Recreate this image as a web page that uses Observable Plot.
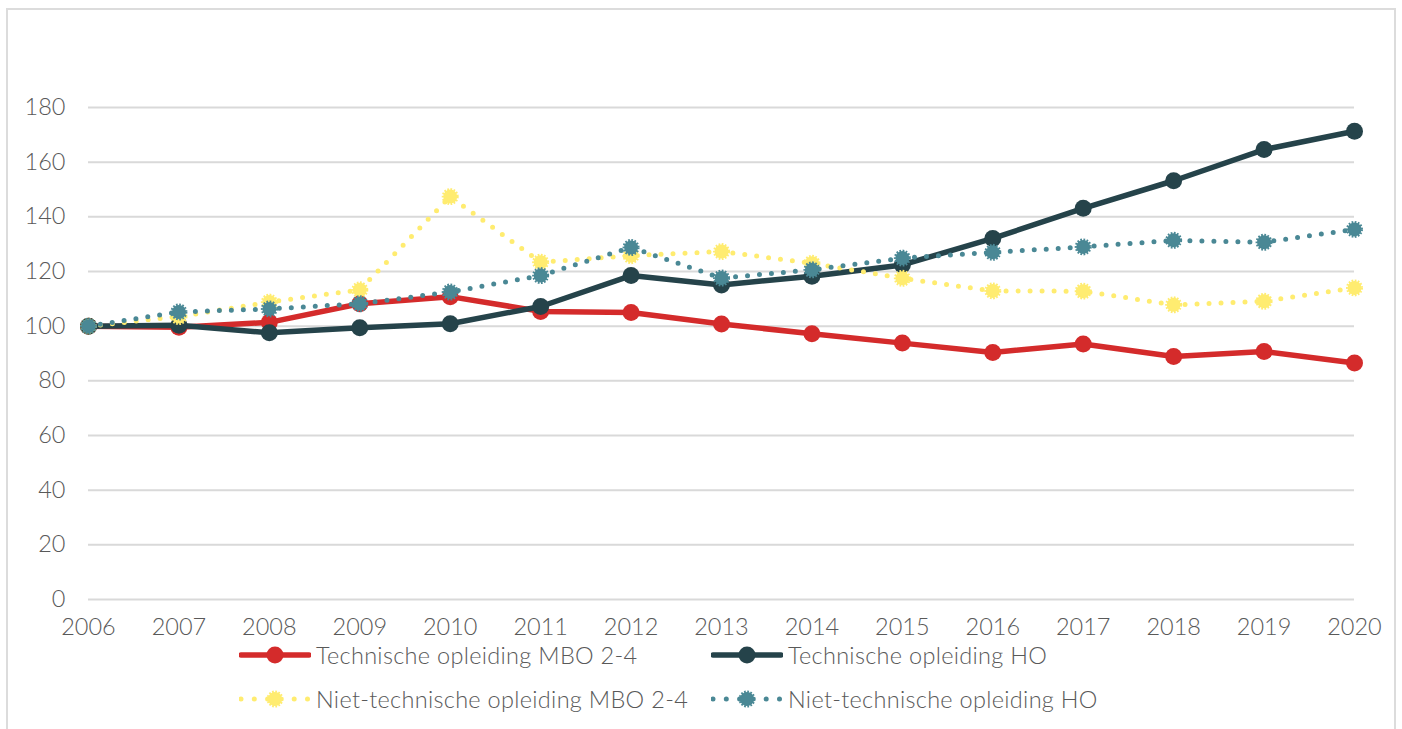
<!DOCTYPE html>
<html>
<head>
<meta charset="utf-8">
<script src="https://cdn.jsdelivr.net/npm/d3@7"></script>
<script src="https://cdn.jsdelivr.net/npm/@observablehq/plot@0.6"></script>
<style>
  html, body { margin: 0; padding: 0; background: #fff; }
  #wrap { position: relative; width: 1402px; height: 729px; overflow: hidden; font-family: Lato, sans-serif; }
  #frame { position: absolute; left: 6px; top: 8px; width: 1390px; height: 760px; border: 2px solid #dcdcdc; box-sizing: border-box; }
  #chart { position: absolute; left: 0; top: 0; }
  .leg { position: absolute; display: flex; align-items: center; font-size: 23.5px; font-weight: 300; letter-spacing: 0.3px; color: #595959; white-space: nowrap; }
  .leg svg { margin-right: 5px; }
  #chart svg text { font-weight: 300; }
</style>
</head>
<body>
<div id="wrap">
  <div id="frame"></div>
  <div id="chart"></div>
</div>
<script>
const years = [2006, 2007, 2008, 2009, 2010, 2011, 2012, 2013, 2014, 2015, 2016, 2017, 2018, 2019, 2020];
const techMBO = [100, 99.6, 101.4, 108.2, 110.8, 105.4, 105.0, 100.8, 97.2, 93.8, 90.4, 93.5, 88.9, 90.7, 86.5];
const techHO = [100, 100.3, 97.6, 99.4, 100.9, 107.2, 118.5, 115.1, 118.3, 122.4, 132.1, 143.1, 153.2, 164.6, 171.3];
const nietMBO = [100, 103.5, 108.8, 113.3, 147.4, 123.4, 125.8, 127.3, 123.0, 117.5, 112.9, 112.8, 107.8, 109.1, 114.0];
const nietHO = [100, 105.2, 106.3, 108.2, 112.5, 118.5, 128.8, 117.6, 120.6, 124.9, 127.0, 129.0, 131.4, 130.7, 135.4];
const seriesNames = ["Technische opleiding MBO 2-4", "Technische opleiding HO", "Niet-technische opleiding MBO 2-4", "Niet-technische opleiding HO"];
const seriesColors = ["#d42b2b", "#25434a", "#ffec70", "#4a8895"];
const yTicks = [0, 20, 40, 60, 80, 100, 120, 140, 160, 180];

const allValues = [techMBO, techHO, nietMBO, nietHO];
const rows = (vals) => years.map((y, i) => ({year: y, value: vals[i]}));

const marks = [
  Plot.ruleY(yTicks, {stroke: "#d9d9d9", strokeWidth: 2})
];
allValues.forEach((vals, k) => {
  const data = rows(vals);
  const color = seriesColors[k];
  const dotted = k >= 2;
  if (dotted) {
    marks.push(Plot.line(data, {x: "year", y: "value", stroke: color, strokeWidth: 5, strokeDasharray: "0 12", strokeLinecap: "round"}));
    marks.push(Plot.dot(data, {x: "year", y: "value", r: 7, fill: color, stroke: color, strokeWidth: 3, strokeDasharray: "1.6 1.4"}));
  } else {
    marks.push(Plot.line(data, {x: "year", y: "value", stroke: color, strokeWidth: 5.5, strokeLinejoin: "round"}));
    marks.push(Plot.dot(data, {x: "year", y: "value", r: 8.5, fill: color, stroke: "none"}));
  }
});

const chart = Plot.plot({
  width: 1402,
  height: 645,
  marginLeft: 88,
  marginRight: 48,
  marginTop: 107,
  marginBottom: 46,
  style: {fontFamily: "Lato, sans-serif", fontSize: "23.5px", color: "#595959", background: "transparent", overflow: "visible"},
  x: {domain: [2006, 2020], ticks: years, tickFormat: d => String(d), tickSize: 0, tickPadding: 19, label: null},
  y: {domain: [0, 180], ticks: yTicks, tickSize: 0, tickPadding: 23, label: null},
  marks
});
document.getElementById("chart").appendChild(chart);

// Legend (HTML, below the plot area)
const legendPos = [
  {left: 239, top: 656},
  {left: 711, top: 656},
  {left: 239, top: 700},
  {left: 711, top: 700}
];
const wrap = document.getElementById("wrap");
seriesNames.forEach((name, k) => {
  const color = seriesColors[k];
  const dotted = k >= 2;
  const div = document.createElement("div");
  div.className = "leg";
  div.style.left = legendPos[k].left + "px";
  div.style.top = (legendPos[k].top - 16) + "px";
  div.style.height = "30px";
  const ns = "http://www.w3.org/2000/svg";
  const s = document.createElementNS(ns, "svg");
  s.setAttribute("width", 72);
  s.setAttribute("height", 30);
  const line = document.createElementNS(ns, "line");
  line.setAttribute("x1", 2);
  line.setAttribute("x2", 70);
  line.setAttribute("y1", 15);
  line.setAttribute("y2", 15);
  line.setAttribute("stroke", color);
  line.setAttribute("stroke-linecap", "round");
  if (dotted) {
    line.setAttribute("stroke-width", 5);
    line.setAttribute("stroke-dasharray", "0 13.3");
  } else {
    line.setAttribute("stroke-width", 5.5);
  }
  s.appendChild(line);
  const c = document.createElementNS(ns, "circle");
  c.setAttribute("cx", 36);
  c.setAttribute("cy", 15);
  c.setAttribute("fill", color);
  if (dotted) {
    c.setAttribute("r", 7);
    c.setAttribute("stroke", color);
    c.setAttribute("stroke-width", 3);
    c.setAttribute("stroke-dasharray", "1.6 1.4");
  } else {
    c.setAttribute("r", 8.5);
  }
  s.appendChild(c);
  div.appendChild(s);
  const t = document.createElement("span");
  t.textContent = name;
  div.appendChild(t);
  wrap.appendChild(div);
});
</script>
</body>
</html>
